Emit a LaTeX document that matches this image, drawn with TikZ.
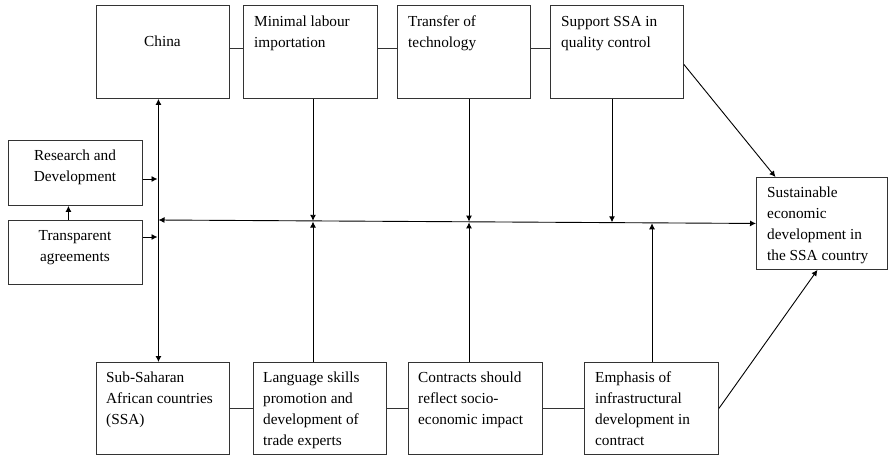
\documentclass[tikz,border=0pt]{standalone}
\usepackage{fontspec}
\setmainfont{Liberation Serif}
\usetikzlibrary{arrows.meta}
\newcommand\fstl{\rule{0pt}{11pt}}
\begin{document}
\begin{tikzpicture}[x=1pt,y=-1pt,
  box/.style={draw=black!80, line width=0.9pt, inner sep=0pt, anchor=north west},
  txt/.style={font=\fontsize{15.3}{21}\selectfont, align=left, inner sep=0pt, anchor=north west, yshift=11pt},
  ctxt/.style={font=\fontsize{15.3}{21}\selectfont, align=center, inner sep=0pt, anchor=north, yshift=11pt},
  link/.style={line width=0.9pt, draw=black!80},
  arr/.style={line width=0.9pt, -{Latex[length=6pt,width=6pt]}},
  darr/.style={line width=0.9pt, {Latex[length=6pt,width=6pt]}-{Latex[length=6pt,width=6pt]}}]
\useasboundingbox (0,0) rectangle (889,456);
% boxes
\node[box, minimum width=133, minimum height=93] (china) at (96,5) {};
\node[box, minimum width=134, minimum height=93] (labour) at (243,5) {};
\node[box, minimum width=133, minimum height=93] (transfer) at (397,5) {};
\node[box, minimum width=133, minimum height=93] (support) at (550,5) {};
\node[box, minimum width=134, minimum height=65] (rd) at (8,140) {};
\node[box, minimum width=134, minimum height=64] (transp) at (8,220) {};
\node[box, minimum width=131, minimum height=92] (sust) at (756,177) {};
\node[box, minimum width=133, minimum height=92] (ssa) at (96,362) {};
\node[box, minimum width=133, minimum height=92] (lang) at (253,362) {};
\node[box, minimum width=134, minimum height=92] (contr) at (408,362) {};
\node[box, minimum width=134, minimum height=92] (emph) at (584,362) {};
% texts (positions are first baselines)
\node[ctxt] (tchina) at (162.5,46) {\fstl China};
\node[txt] (tlabour) at (254,26) {\fstl Minimal labour\\importation};
\node[txt] (ttransfer) at (408,26) {\fstl Transfer of\\technology};
\node[txt] (tsupport) at (561,26) {\fstl Support SSA in\\quality control};
\node[ctxt] (trd) at (75,160.5) {\fstl Research and\\Development};
\node[ctxt] (ttransp) at (75,240) {\fstl Transparent\\agreements};
\node[txt] (tsust) at (767,197) {\fstl Sustainable\\economic\\development in\\the SSA country};
\node[txt] (tssa) at (106,382) {\fstl Sub-Saharan\\African countries\\(SSA)};
\node[txt] (tlang) at (263,382) {\fstl Language skills\\promotion and\\development of\\trade experts};
\node[txt] (tcontr) at (418,382) {\fstl Contracts should\\reflect socio-\\economic impact};
\node[txt] (temph) at (595,382) {\fstl Emphasis of\\infrastructural\\development in\\contract};
% plain links between boxes
\draw[link] ([yshift=4pt]china.east) -- ([yshift=4pt]labour.west);
\draw[link] ([yshift=4pt]labour.east) -- ([yshift=4pt]transfer.west);
\draw[link] ([yshift=4pt]transfer.east) -- ([yshift=4pt]support.west);
\draw[link] (ssa.east) -- (lang.west);
\draw[link] (lang.east) -- (contr.west);
\draw[link] (contr.east) -- (emph.west);
% main axes
\draw[darr] ([xshift=-4.5pt]china.south) -- ([xshift=-4.5pt]ssa.north);
\coordinate (hl) at (158.5,220);
\draw[darr] (hl) -- (sust.west);
% down and up arrows
\coordinate (p1) at (313,220.8);
\coordinate (p2) at (469,221.6);
\coordinate (p3) at (612,222.3);
\coordinate (p4) at (652,222.5);
\draw[arr] (labour.south -| p1) -- (p1);
\draw[arr] (transfer.south -| p2) -- (p2);
\draw[arr] (support.south -| p3) -- (p3);
\draw[arr] (lang.north -| p1) -- ([yshift=-0.8pt]p1);
\draw[arr] (contr.north -| p2) -- ([yshift=-0.8pt]p2);
\draw[arr] (emph.north -| p4) -- ([yshift=-0.8pt]p4);
% side inputs
\coordinate (v1) at (157.5,179);
\coordinate (v2) at (157.5,237);
\draw[arr] (rd.east |- v1) -- (v1);
\draw[arr] (transp.east |- v2) -- (v2);
\draw[arr] ([xshift=-7pt]transp.north) -- ([xshift=-7pt]rd.south);
% diagonals
\draw[arr] ([yshift=-12.5pt]support.east) -- ([xshift=-46.5pt]sust.north);
\draw[arr] (emph.east) -- ([xshift=-4.5pt]sust.south);
\end{tikzpicture}
\end{document}
